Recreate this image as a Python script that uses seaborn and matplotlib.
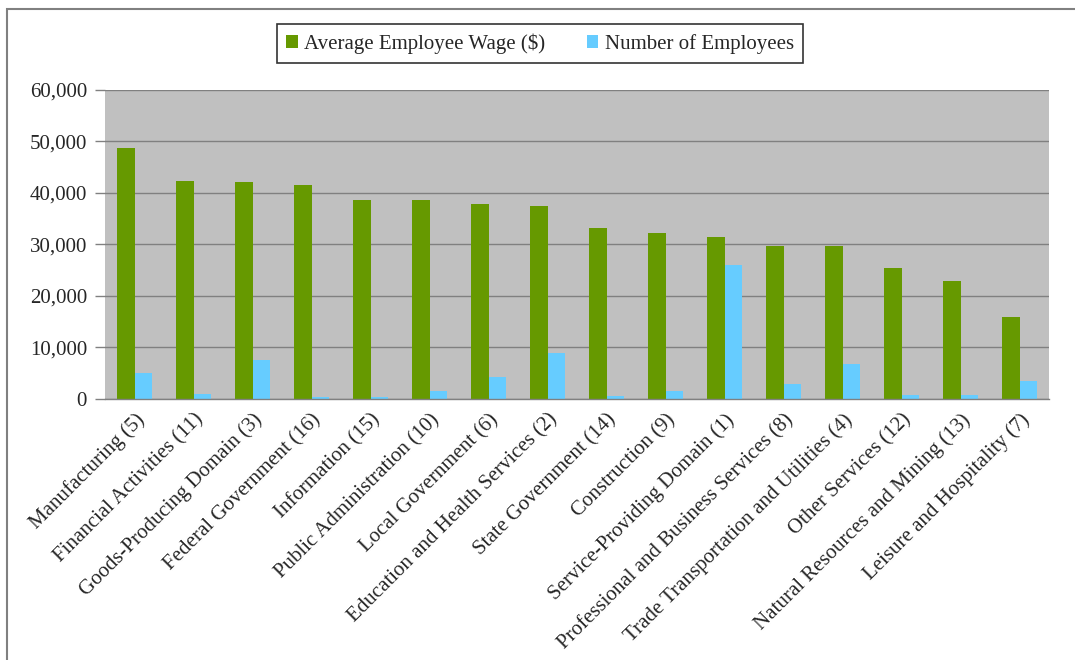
import numpy as np
import pandas as pd
import matplotlib
matplotlib.use("Agg")
import matplotlib.pyplot as plt
import seaborn as sns
from matplotlib.patches import Rectangle
from matplotlib.ticker import FuncFormatter, FixedLocator

# datos
categorias = ['Manufacturing (5)', 'Financial Activities (11)', 'Goods-Producing Domain (3)',
              'Federal Government (16)', 'Information (15)', 'Public Administration (10)',
              'Local Government (6)', 'Education and Health Services (2)', 'State Government (14)',
              'Construction (9)', 'Service-Providing Domain (1)', 'Professional and Business Services (8)',
              'Trade Transportation and Utilities (4)', 'Other Services (12)',
              'Natural Resources and Mining (13)', 'Leisure and Hospitality (7)']
salario = [48800, 42300, 42100, 41600, 38600, 38600, 37900, 37400,
           33200, 32200, 31400, 29700, 29700, 25500, 22900, 15900]
empleados = [5000, 1000, 7500, 300, 300, 1550, 4300, 9000,
             600, 1550, 26000, 3000, 6700, 800, 800, 3500]
series_names = ['Average Employee Wage ($)', 'Number of Employees']

df = pd.DataFrame({
    'categoria': categorias * 2,
    'valor': salario + empleados,
    'serie': [series_names[0]] * len(categorias) + [series_names[1]] * len(categorias),
})

sns.set_style('white')
plt.rcParams['font.family'] = ['Liberation Serif', 'DejaVu Serif']

fig = plt.figure(figsize=(10.75, 6.6), dpi=100)
ax = fig.add_axes([105 / 1075, 1 - 399 / 660, (1049 - 105) / 1075, (399 - 90) / 660])

sns.barplot(data=df, x='categoria', y='valor', hue='serie', palette=['#669900', '#66CCFF'],
            width=0.58, saturation=1, ax=ax, edgecolor='none')

ax.set_facecolor('#C0C0C0')
ax.set_ylim(0, 60000)
ax.set_xlim(-0.5, len(categorias) - 0.5)
ax.set_yticks(np.arange(0, 60001, 10000))
ax.yaxis.set_major_formatter(FuncFormatter(lambda v, p: f'{int(v):,}'))
ax.grid(axis='y', color='#808080', lw=1)
ax.set_axisbelow(True)
ax.set_xlabel('')
ax.set_ylabel('')

for s in ['top', 'right', 'left']:
    ax.spines[s].set_visible(False)
ax.spines['bottom'].set_color('#808080')
ax.spines['bottom'].set_linewidth(1)

# ticks entre categorias, estilo excel
ax.set_xticks(range(len(categorias)))
ax.set_xticklabels(categorias, rotation=45, ha='right', rotation_mode='anchor', fontsize=15)
ax.tick_params(axis='x', which='major', length=0, pad=8)
ax.xaxis.set_minor_locator(FixedLocator(np.arange(0.5, len(categorias) - 0.5 + 1, 1)))
ax.tick_params(axis='x', which='minor', length=6, color='#808080', width=1, direction='out')
ax.tick_params(axis='y', length=7, color='#808080', width=1, labelsize=15, pad=6, left=True)

ax.legend_.remove()
handles, labels = ax.get_legend_handles_labels()
leg = fig.legend(handles, labels, loc='center', bbox_to_anchor=(540 / 1075, 1 - 43.5 / 660),
                 ncol=2, frameon=True, fancybox=False, fontsize=15, handlelength=0.55,
                 handleheight=0.55, handletextpad=0.3, columnspacing=2.0, borderpad=0.45)
leg.get_frame().set_edgecolor('black')
leg.get_frame().set_linewidth(1.2)

# marco del grafico
fig.patches.append(Rectangle((7 / 1075, -0.1), 1.2, 1 - 9 / 660 + 0.1, transform=fig.transFigure,
                             fill=False, edgecolor='#808080', lw=1.5))

plt.savefig('out.png', dpi=100)
